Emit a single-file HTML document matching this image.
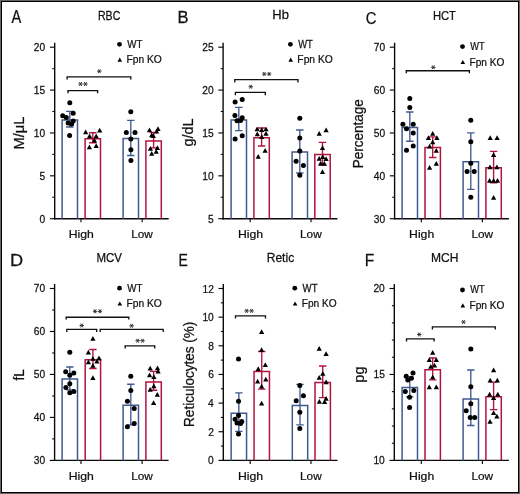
<!DOCTYPE html>
<html><head><meta charset="utf-8"><style>
html,body{margin:0;padding:0;background:#fff;}
body{width:520px;height:494px;overflow:hidden;}
svg{display:block;will-change:transform;font-family:"Liberation Sans",sans-serif;font-kerning:none;}
text{stroke:#111;stroke-width:0.25px;}
</style></head><body>
<svg width="520" height="494" viewBox="0 0 520 494">
<rect x="0" y="0" width="520" height="494" fill="#646464"/>
<rect x="1" y="1" width="518" height="492" fill="#000"/>
<rect x="2" y="2" width="516" height="490" fill="#fff"/>
<g stroke="#0a0a0a" fill="none">
<path d="M54.70 42.70L54.70 219.40" stroke-width="1.4"/>
<path d="M54.00 218.70L168.70 218.70" stroke-width="1.4"/>
<path d="M49.90 218.70L54.70 218.70" stroke-width="1.15"/>
<path d="M52.30 197.26L54.70 197.26" stroke-width="1.1"/>
<path d="M49.90 175.82L54.70 175.82" stroke-width="1.15"/>
<path d="M52.30 154.39L54.70 154.39" stroke-width="1.1"/>
<path d="M49.90 132.95L54.70 132.95" stroke-width="1.15"/>
<path d="M52.30 111.51L54.70 111.51" stroke-width="1.1"/>
<path d="M49.90 90.07L54.70 90.07" stroke-width="1.15"/>
<path d="M52.30 68.64L54.70 68.64" stroke-width="1.1"/>
<path d="M49.90 47.20L54.70 47.20" stroke-width="1.15"/>
<path d="M81.00 218.70L81.00 222.30" stroke-width="1.15"/>
<path d="M142.20 218.70L142.20 222.30" stroke-width="1.15"/>
</g>
<g stroke="#3f5a8f" fill="none" stroke-width="1.5">
<path d="M62.10 218.70L62.10 120.10L77.50 120.10L77.50 218.70"/>
<path d="M69.80 111.40L69.80 127.00M66.10 111.40L73.50 111.40M66.10 127.00L73.50 127.00" stroke-width="1.35"/>
</g>
<g fill="#000">
<circle cx="69.80" cy="102.80" r="2.50"/>
<circle cx="73.20" cy="113.30" r="2.50"/>
<circle cx="62.70" cy="115.80" r="2.50"/>
<circle cx="66.30" cy="117.60" r="2.50"/>
<circle cx="73.20" cy="120.90" r="2.50"/>
<circle cx="68.10" cy="122.90" r="2.50"/>
<circle cx="71.60" cy="123.90" r="2.50"/>
<circle cx="69.60" cy="135.60" r="2.50"/>
</g>
<g stroke="#b3123f" fill="none" stroke-width="1.5">
<path d="M85.10 218.70L85.10 138.70L100.50 138.70L100.50 218.70"/>
<path d="M92.80 132.70L92.80 142.70M89.10 132.70L96.50 132.70M89.10 142.70L96.50 142.70" stroke-width="1.35"/>
</g>
<g fill="#000">
<path d="M85.70 129.39L88.33 134.14L83.08 134.14Z"/>
<path d="M99.70 127.79L102.33 132.54L97.08 132.54Z"/>
<path d="M89.60 133.59L92.22 138.34L86.97 138.34Z"/>
<path d="M96.20 133.59L98.83 138.34L93.58 138.34Z"/>
<path d="M94.40 137.69L97.03 142.44L91.78 142.44Z"/>
<path d="M89.40 144.49L92.03 149.24L86.78 149.24Z"/>
<path d="M96.20 143.29L98.83 148.04L93.58 148.04Z"/>
</g>
<g stroke="#3f5a8f" fill="none" stroke-width="1.5">
<path d="M123.10 218.70L123.10 138.60L138.50 138.60L138.50 218.70"/>
<path d="M130.80 120.30L130.80 155.50M127.10 120.30L134.50 120.30M127.10 155.50L134.50 155.50" stroke-width="1.35"/>
</g>
<g fill="#000">
<circle cx="130.80" cy="111.80" r="2.50"/>
<circle cx="126.30" cy="132.50" r="2.50"/>
<circle cx="135.00" cy="132.50" r="2.50"/>
<circle cx="130.80" cy="138.90" r="2.50"/>
<circle cx="130.90" cy="149.70" r="2.50"/>
<circle cx="130.90" cy="160.40" r="2.50"/>
</g>
<g stroke="#b3123f" fill="none" stroke-width="1.5">
<path d="M145.90 218.70L145.90 140.90L161.30 140.90L161.30 218.70"/>
<path d="M153.60 132.50L153.60 147.90M149.90 132.50L157.30 132.50M149.90 147.90L157.30 147.90" stroke-width="1.35"/>
</g>
<g fill="#000">
<path d="M149.50 127.49L152.12 132.24L146.88 132.24Z"/>
<path d="M158.00 126.29L160.62 131.04L155.38 131.04Z"/>
<path d="M156.60 128.69L159.22 133.44L153.97 133.44Z"/>
<path d="M151.70 132.39L154.32 137.14L149.07 137.14Z"/>
<path d="M153.30 133.19L155.93 137.94L150.68 137.94Z"/>
<path d="M150.40 146.09L153.03 150.84L147.78 150.84Z"/>
<path d="M157.40 145.29L160.03 150.04L154.78 150.04Z"/>
<path d="M151.70 150.99L154.32 155.74L149.07 155.74Z"/>
<path d="M156.20 148.99L158.82 153.74L153.57 153.74Z"/>
</g>
<path d="M67.10 79.60L67.10 76.80L130.80 76.80L130.80 79.60" stroke="#111" stroke-width="1.35" fill="none"/>
<path d="M97.10 71.20L101.50 71.20M98.20 69.29L100.40 73.11M100.40 69.29L98.20 73.11" stroke="#333" stroke-width="1.0" fill="none"/>
<path d="M68.00 93.20L68.00 90.60L97.60 90.60L97.60 93.20" stroke="#111" stroke-width="1.35" fill="none"/>
<path d="M78.35 84.00L82.75 84.00M79.45 82.09L81.65 85.91M81.65 82.09L79.45 85.91" stroke="#333" stroke-width="1.0" fill="none"/><path d="M83.25 84.00L87.65 84.00M84.35 82.09L86.55 85.91M86.55 82.09L84.35 85.91" stroke="#333" stroke-width="1.0" fill="none"/>
<g stroke="#0a0a0a" fill="none">
<path d="M223.10 42.70L223.10 219.40" stroke-width="1.4"/>
<path d="M222.40 218.70L337.50 218.70" stroke-width="1.4"/>
<path d="M218.30 218.70L223.10 218.70" stroke-width="1.15"/>
<path d="M220.70 197.26L223.10 197.26" stroke-width="1.1"/>
<path d="M218.30 175.82L223.10 175.82" stroke-width="1.15"/>
<path d="M220.70 154.39L223.10 154.39" stroke-width="1.1"/>
<path d="M218.30 132.95L223.10 132.95" stroke-width="1.15"/>
<path d="M220.70 111.51L223.10 111.51" stroke-width="1.1"/>
<path d="M218.30 90.07L223.10 90.07" stroke-width="1.15"/>
<path d="M220.70 68.64L223.10 68.64" stroke-width="1.1"/>
<path d="M218.30 47.20L223.10 47.20" stroke-width="1.15"/>
<path d="M250.20 218.70L250.20 222.30" stroke-width="1.15"/>
<path d="M311.00 218.70L311.00 222.30" stroke-width="1.15"/>
</g>
<g stroke="#3f5a8f" fill="none" stroke-width="1.5">
<path d="M231.10 218.70L231.10 119.90L246.50 119.90L246.50 218.70"/>
<path d="M238.80 107.40L238.80 130.60M235.10 107.40L242.50 107.40M235.10 130.60L242.50 130.60" stroke-width="1.35"/>
</g>
<g fill="#000">
<circle cx="235.10" cy="102.00" r="2.50"/>
<circle cx="242.20" cy="99.60" r="2.50"/>
<circle cx="234.90" cy="115.60" r="2.50"/>
<circle cx="242.20" cy="117.80" r="2.50"/>
<circle cx="237.00" cy="120.80" r="2.50"/>
<circle cx="240.60" cy="120.50" r="2.50"/>
<circle cx="235.10" cy="139.00" r="2.50"/>
<circle cx="242.20" cy="135.70" r="2.50"/>
</g>
<g stroke="#b3123f" fill="none" stroke-width="1.5">
<path d="M253.90 218.70L253.90 137.80L269.30 137.80L269.30 218.70"/>
<path d="M261.60 128.00L261.60 146.00M257.90 128.00L265.30 128.00M257.90 146.00L265.30 146.00" stroke-width="1.35"/>
</g>
<g fill="#000">
<path d="M257.10 126.49L259.73 131.24L254.48 131.24Z"/>
<path d="M261.70 127.29L264.32 132.04L259.07 132.04Z"/>
<path d="M266.00 126.49L268.62 131.24L263.38 131.24Z"/>
<path d="M257.30 131.49L259.93 136.24L254.68 136.24Z"/>
<path d="M266.00 131.09L268.62 135.84L263.38 135.84Z"/>
<path d="M261.70 134.29L264.32 139.04L259.07 139.04Z"/>
<path d="M265.10 147.99L267.73 152.74L262.48 152.74Z"/>
<path d="M258.20 153.89L260.82 158.64L255.57 158.64Z"/>
</g>
<g stroke="#3f5a8f" fill="none" stroke-width="1.5">
<path d="M292.10 218.70L292.10 152.10L307.50 152.10L307.50 218.70"/>
<path d="M299.80 130.00L299.80 173.00M296.10 130.00L303.50 130.00M296.10 173.00L303.50 173.00" stroke-width="1.35"/>
</g>
<g fill="#000">
<circle cx="299.80" cy="118.30" r="2.50"/>
<circle cx="299.80" cy="138.10" r="2.50"/>
<circle cx="299.80" cy="150.90" r="2.50"/>
<circle cx="296.10" cy="161.30" r="2.50"/>
<circle cx="303.40" cy="165.50" r="2.50"/>
<circle cx="299.80" cy="175.20" r="2.50"/>
</g>
<g stroke="#b3123f" fill="none" stroke-width="1.5">
<path d="M314.80 218.70L314.80 154.60L330.20 154.60L330.20 218.70"/>
<path d="M322.50 142.40L322.50 165.00M318.80 142.40L326.20 142.40M318.80 165.00L326.20 165.00" stroke-width="1.35"/>
</g>
<g fill="#000">
<path d="M319.20 130.99L321.82 135.74L316.57 135.74Z"/>
<path d="M326.10 127.59L328.73 132.34L323.48 132.34Z"/>
<path d="M322.50 145.29L325.12 150.04L319.88 150.04Z"/>
<path d="M319.20 155.89L321.82 160.64L316.57 160.64Z"/>
<path d="M322.80 154.19L325.43 158.94L320.18 158.94Z"/>
<path d="M326.10 156.19L328.73 160.94L323.48 160.94Z"/>
<path d="M320.70 160.69L323.32 165.44L318.07 165.44Z"/>
<path d="M324.30 161.09L326.93 165.84L321.68 165.84Z"/>
<path d="M322.50 169.19L325.12 173.94L319.88 173.94Z"/>
</g>
<path d="M234.80 82.40L234.80 79.60L298.00 79.60L298.00 82.40" stroke="#111" stroke-width="1.35" fill="none"/>
<path d="M262.05 74.00L266.45 74.00M263.15 72.09L265.35 75.91M265.35 72.09L263.15 75.91" stroke="#333" stroke-width="1.0" fill="none"/><path d="M266.95 74.00L271.35 74.00M268.05 72.09L270.25 75.91M270.25 72.09L268.05 75.91" stroke="#333" stroke-width="1.0" fill="none"/>
<path d="M235.40 95.20L235.40 92.40L265.30 92.40L265.30 95.20" stroke="#111" stroke-width="1.35" fill="none"/>
<path d="M248.50 86.70L252.90 86.70M249.60 84.79L251.80 88.61M251.80 84.79L249.60 88.61" stroke="#333" stroke-width="1.0" fill="none"/>
<g stroke="#0a0a0a" fill="none">
<path d="M394.60 42.70L394.60 219.40" stroke-width="1.4"/>
<path d="M393.90 218.70L508.90 218.70" stroke-width="1.4"/>
<path d="M389.80 218.70L394.60 218.70" stroke-width="1.15"/>
<path d="M392.20 197.26L394.60 197.26" stroke-width="1.1"/>
<path d="M389.80 175.82L394.60 175.82" stroke-width="1.15"/>
<path d="M392.20 154.39L394.60 154.39" stroke-width="1.1"/>
<path d="M389.80 132.95L394.60 132.95" stroke-width="1.15"/>
<path d="M392.20 111.51L394.60 111.51" stroke-width="1.1"/>
<path d="M389.80 90.07L394.60 90.07" stroke-width="1.15"/>
<path d="M392.20 68.64L394.60 68.64" stroke-width="1.1"/>
<path d="M389.80 47.20L394.60 47.20" stroke-width="1.15"/>
<path d="M421.30 218.70L421.30 222.30" stroke-width="1.15"/>
<path d="M482.40 218.70L482.40 222.30" stroke-width="1.15"/>
</g>
<g stroke="#3f5a8f" fill="none" stroke-width="1.5">
<path d="M402.10 218.70L402.10 127.50L417.50 127.50L417.50 218.70"/>
<path d="M409.80 112.00L409.80 141.20M406.10 112.00L413.50 112.00M406.10 141.20L413.50 141.20" stroke-width="1.35"/>
</g>
<g fill="#000">
<circle cx="409.80" cy="98.60" r="2.50"/>
<circle cx="409.80" cy="107.40" r="2.50"/>
<circle cx="402.90" cy="124.20" r="2.50"/>
<circle cx="413.20" cy="124.20" r="2.50"/>
<circle cx="406.50" cy="128.70" r="2.50"/>
<circle cx="413.20" cy="132.90" r="2.50"/>
<circle cx="413.20" cy="145.90" r="2.50"/>
<circle cx="406.50" cy="150.20" r="2.50"/>
</g>
<g stroke="#b3123f" fill="none" stroke-width="1.5">
<path d="M425.00 218.70L425.00 147.50L440.40 147.50L440.40 218.70"/>
<path d="M432.70 136.80L432.70 157.50M429.00 136.80L436.40 136.80M429.00 157.50L436.40 157.50" stroke-width="1.35"/>
</g>
<g fill="#000">
<path d="M432.70 130.89L435.32 135.64L430.07 135.64Z"/>
<path d="M428.40 135.19L431.02 139.94L425.77 139.94Z"/>
<path d="M436.90 135.19L439.52 139.94L434.27 139.94Z"/>
<path d="M432.70 139.39L435.32 144.14L430.07 144.14Z"/>
<path d="M429.60 143.69L432.23 148.44L426.98 148.44Z"/>
<path d="M436.30 147.89L438.93 152.64L433.68 152.64Z"/>
<path d="M436.30 160.99L438.93 165.74L433.68 165.74Z"/>
<path d="M429.60 164.99L432.23 169.74L426.98 169.74Z"/>
</g>
<g stroke="#3f5a8f" fill="none" stroke-width="1.5">
<path d="M463.10 218.70L463.10 161.80L478.50 161.80L478.50 218.70"/>
<path d="M470.80 132.80L470.80 189.30M467.10 132.80L474.50 132.80M467.10 189.30L474.50 189.30" stroke-width="1.35"/>
</g>
<g fill="#000">
<circle cx="470.80" cy="120.30" r="2.50"/>
<circle cx="470.80" cy="141.80" r="2.50"/>
<circle cx="470.80" cy="163.30" r="2.50"/>
<circle cx="467.10" cy="171.40" r="2.50"/>
<circle cx="474.20" cy="171.40" r="2.50"/>
<circle cx="470.80" cy="197.30" r="2.50"/>
</g>
<g stroke="#b3123f" fill="none" stroke-width="1.5">
<path d="M485.90 218.70L485.90 167.70L501.30 167.70L501.30 218.70"/>
<path d="M493.60 151.30L493.60 182.70M489.90 151.30L497.30 151.30M489.90 182.70L497.30 182.70" stroke-width="1.35"/>
</g>
<g fill="#000">
<path d="M490.20 135.29L492.82 140.04L487.57 140.04Z"/>
<path d="M497.10 135.29L499.73 140.04L494.48 140.04Z"/>
<path d="M493.60 152.29L496.23 157.04L490.98 157.04Z"/>
<path d="M490.00 164.49L492.62 169.24L487.38 169.24Z"/>
<path d="M496.90 164.49L499.52 169.24L494.27 169.24Z"/>
<path d="M489.60 177.89L492.23 182.64L486.98 182.64Z"/>
<path d="M493.60 177.89L496.23 182.64L490.98 182.64Z"/>
<path d="M497.50 177.89L500.12 182.64L494.88 182.64Z"/>
<path d="M493.60 194.89L496.23 199.64L490.98 199.64Z"/>
</g>
<path d="M406.30 73.30L406.30 70.70L469.40 70.70L469.40 73.30" stroke="#111" stroke-width="1.35" fill="none"/>
<path d="M431.10 67.30L435.50 67.30M432.20 65.39L434.40 69.21M434.40 65.39L432.20 69.21" stroke="#333" stroke-width="1.0" fill="none"/>
<g stroke="#0a0a0a" fill="none">
<path d="M54.60 284.00L54.60 461.10" stroke-width="1.4"/>
<path d="M53.90 460.40L168.60 460.40" stroke-width="1.4"/>
<path d="M49.80 460.40L54.60 460.40" stroke-width="1.15"/>
<path d="M52.20 438.91L54.60 438.91" stroke-width="1.1"/>
<path d="M49.80 417.42L54.60 417.42" stroke-width="1.15"/>
<path d="M52.20 395.94L54.60 395.94" stroke-width="1.1"/>
<path d="M49.80 374.45L54.60 374.45" stroke-width="1.15"/>
<path d="M52.20 352.96L54.60 352.96" stroke-width="1.1"/>
<path d="M49.80 331.48L54.60 331.48" stroke-width="1.15"/>
<path d="M52.20 309.99L54.60 309.99" stroke-width="1.1"/>
<path d="M49.80 288.50L54.60 288.50" stroke-width="1.15"/>
<path d="M81.00 460.40L81.00 464.00" stroke-width="1.15"/>
<path d="M142.10 460.40L142.10 464.00" stroke-width="1.15"/>
</g>
<g stroke="#3f5a8f" fill="none" stroke-width="1.5">
<path d="M62.10 460.40L62.10 379.10L77.50 379.10L77.50 460.40"/>
<path d="M69.80 367.00L69.80 389.80M66.10 367.00L73.50 367.00M66.10 389.80L73.50 389.80" stroke-width="1.35"/>
</g>
<g fill="#000">
<circle cx="69.80" cy="352.20" r="2.50"/>
<circle cx="65.70" cy="371.80" r="2.50"/>
<circle cx="73.80" cy="373.00" r="2.50"/>
<circle cx="69.80" cy="375.20" r="2.50"/>
<circle cx="69.80" cy="383.70" r="2.50"/>
<circle cx="65.90" cy="387.60" r="2.50"/>
<circle cx="73.80" cy="391.60" r="2.50"/>
<circle cx="69.80" cy="392.80" r="2.50"/>
</g>
<g stroke="#b3123f" fill="none" stroke-width="1.5">
<path d="M85.20 460.40L85.20 359.70L100.60 359.70L100.60 460.40"/>
<path d="M92.90 349.50L92.90 368.50M89.20 349.50L96.60 349.50M89.20 368.50L96.60 368.50" stroke-width="1.35"/>
</g>
<g fill="#000">
<path d="M92.90 335.99L95.53 340.74L90.28 340.74Z"/>
<path d="M88.40 349.79L91.03 354.54L85.78 354.54Z"/>
<path d="M99.00 355.39L101.62 360.14L96.38 360.14Z"/>
<path d="M92.90 355.89L95.53 360.64L90.28 360.64Z"/>
<path d="M88.40 359.49L91.03 364.24L85.78 364.24Z"/>
<path d="M96.90 358.69L99.53 363.44L94.28 363.44Z"/>
<path d="M92.90 363.09L95.53 367.84L90.28 367.84Z"/>
<path d="M92.90 375.29L95.53 380.04L90.28 380.04Z"/>
</g>
<g stroke="#3f5a8f" fill="none" stroke-width="1.5">
<path d="M123.10 460.40L123.10 405.20L138.50 405.20L138.50 460.40"/>
<path d="M130.80 384.20L130.80 424.80M127.10 384.20L134.50 384.20M127.10 424.80L134.50 424.80" stroke-width="1.35"/>
</g>
<g fill="#000">
<circle cx="130.80" cy="376.30" r="2.50"/>
<circle cx="130.80" cy="390.50" r="2.50"/>
<circle cx="127.40" cy="401.30" r="2.50"/>
<circle cx="134.20" cy="408.40" r="2.50"/>
<circle cx="134.20" cy="423.50" r="2.50"/>
<circle cx="127.40" cy="426.80" r="2.50"/>
</g>
<g stroke="#b3123f" fill="none" stroke-width="1.5">
<path d="M145.90 460.40L145.90 382.00L161.30 382.00L161.30 460.40"/>
<path d="M153.60 371.40L153.60 390.20M149.90 371.40L157.30 371.40M149.90 390.20L157.30 390.20" stroke-width="1.35"/>
</g>
<g fill="#000">
<path d="M150.20 365.79L152.82 370.54L147.57 370.54Z"/>
<path d="M157.50 365.49L160.12 370.24L154.88 370.24Z"/>
<path d="M158.10 368.79L160.72 373.54L155.47 373.54Z"/>
<path d="M149.60 372.39L152.22 377.14L146.97 377.14Z"/>
<path d="M153.90 374.29L156.53 379.04L151.28 379.04Z"/>
<path d="M153.90 383.39L156.53 388.14L151.28 388.14Z"/>
<path d="M150.20 386.99L152.82 391.74L147.57 391.74Z"/>
<path d="M157.30 391.89L159.93 396.64L154.68 396.64Z"/>
<path d="M153.60 400.19L156.22 404.94L150.97 404.94Z"/>
</g>
<path d="M66.20 319.60L66.20 317.20L128.80 317.20L128.80 319.60" stroke="#111" stroke-width="1.35" fill="none"/>
<path d="M92.85 311.30L97.25 311.30M93.95 309.39L96.15 313.21M96.15 309.39L93.95 313.21" stroke="#333" stroke-width="1.0" fill="none"/><path d="M97.75 311.30L102.15 311.30M98.85 309.39L101.05 313.21M101.05 309.39L98.85 313.21" stroke="#333" stroke-width="1.0" fill="none"/>
<path d="M66.80 331.90L66.80 329.40L96.70 329.40L96.70 331.90" stroke="#111" stroke-width="1.35" fill="none"/>
<path d="M79.50 325.50L83.90 325.50M80.60 323.59L82.80 327.41M82.80 323.59L80.60 327.41" stroke="#333" stroke-width="1.0" fill="none"/>
<path d="M100.20 332.10L100.20 329.40L163.20 329.40L163.20 332.10" stroke="#111" stroke-width="1.35" fill="none"/>
<path d="M129.40 325.80L133.80 325.80M130.50 323.89L132.70 327.71M132.70 323.89L130.50 327.71" stroke="#333" stroke-width="1.0" fill="none"/>
<path d="M125.20 348.40L125.20 345.90L154.70 345.90L154.70 348.40" stroke="#111" stroke-width="1.35" fill="none"/>
<path d="M135.45 340.70L139.85 340.70M136.55 338.79L138.75 342.61M138.75 338.79L136.55 342.61" stroke="#333" stroke-width="1.0" fill="none"/><path d="M140.35 340.70L144.75 340.70M141.45 338.79L143.65 342.61M143.65 338.79L141.45 342.61" stroke="#333" stroke-width="1.0" fill="none"/>
<g stroke="#0a0a0a" fill="none">
<path d="M223.30 284.00L223.30 461.10" stroke-width="1.4"/>
<path d="M222.60 460.40L337.50 460.40" stroke-width="1.4"/>
<path d="M218.50 460.40L223.30 460.40" stroke-width="1.15"/>
<path d="M220.90 446.07L223.30 446.07" stroke-width="1.1"/>
<path d="M218.50 431.75L223.30 431.75" stroke-width="1.15"/>
<path d="M220.90 417.43L223.30 417.43" stroke-width="1.1"/>
<path d="M218.50 403.10L223.30 403.10" stroke-width="1.15"/>
<path d="M220.90 388.77L223.30 388.77" stroke-width="1.1"/>
<path d="M218.50 374.45L223.30 374.45" stroke-width="1.15"/>
<path d="M220.90 360.12L223.30 360.12" stroke-width="1.1"/>
<path d="M218.50 345.80L223.30 345.80" stroke-width="1.15"/>
<path d="M220.90 331.48L223.30 331.48" stroke-width="1.1"/>
<path d="M218.50 317.15L223.30 317.15" stroke-width="1.15"/>
<path d="M220.90 302.82L223.30 302.82" stroke-width="1.1"/>
<path d="M218.50 288.50L223.30 288.50" stroke-width="1.15"/>
<path d="M250.20 460.40L250.20 464.00" stroke-width="1.15"/>
<path d="M311.00 460.40L311.00 464.00" stroke-width="1.15"/>
</g>
<g stroke="#3f5a8f" fill="none" stroke-width="1.5">
<path d="M231.15 460.40L231.15 413.20L246.55 413.20L246.55 460.40"/>
<path d="M238.85 392.80L238.85 431.40M235.15 392.80L242.55 392.80M235.15 431.40L242.55 431.40" stroke-width="1.35"/>
</g>
<g fill="#000">
<circle cx="238.50" cy="359.10" r="2.50"/>
<circle cx="238.50" cy="401.30" r="2.50"/>
<circle cx="238.50" cy="415.40" r="2.50"/>
<circle cx="235.10" cy="419.30" r="2.50"/>
<circle cx="241.80" cy="421.50" r="2.50"/>
<circle cx="237.00" cy="422.90" r="2.50"/>
<circle cx="240.60" cy="423.50" r="2.50"/>
<circle cx="238.50" cy="433.90" r="2.50"/>
</g>
<g stroke="#b3123f" fill="none" stroke-width="1.5">
<path d="M254.05 460.40L254.05 371.60L269.45 371.60L269.45 460.40"/>
<path d="M261.75 351.50L261.75 389.10M258.05 351.50L265.45 351.50M258.05 389.10L265.45 389.10" stroke-width="1.35"/>
</g>
<g fill="#000">
<path d="M261.60 329.19L264.23 333.94L258.98 333.94Z"/>
<path d="M261.60 347.19L264.23 351.94L258.98 351.94Z"/>
<path d="M265.30 362.19L267.93 366.94L262.68 366.94Z"/>
<path d="M258.20 366.19L260.82 370.94L255.57 370.94Z"/>
<path d="M257.60 378.69L260.23 383.44L254.98 383.44Z"/>
<path d="M265.80 376.79L268.43 381.54L263.18 381.54Z"/>
<path d="M261.60 383.79L264.23 388.54L258.98 388.54Z"/>
<path d="M261.60 400.79L264.23 405.54L258.98 405.54Z"/>
</g>
<g stroke="#3f5a8f" fill="none" stroke-width="1.5">
<path d="M292.30 460.40L292.30 405.40L307.70 405.40L307.70 460.40"/>
<path d="M300.00 384.30L300.00 424.80M296.30 384.30L303.70 384.30M296.30 424.80L303.70 424.80" stroke-width="1.35"/>
</g>
<g fill="#000">
<circle cx="299.80" cy="385.50" r="2.50"/>
<circle cx="303.40" cy="395.80" r="2.50"/>
<circle cx="296.20" cy="400.80" r="2.50"/>
<circle cx="299.80" cy="412.20" r="2.50"/>
<circle cx="299.80" cy="428.40" r="2.50"/>
</g>
<g stroke="#b3123f" fill="none" stroke-width="1.5">
<path d="M315.00 460.40L315.00 382.60L330.40 382.60L330.40 460.40"/>
<path d="M322.70 366.00L322.70 397.60M319.00 366.00L326.40 366.00M319.00 397.60L326.40 397.60" stroke-width="1.35"/>
</g>
<g fill="#000">
<path d="M319.20 345.89L321.82 350.64L316.57 350.64Z"/>
<path d="M326.10 351.19L328.73 355.94L323.48 355.94Z"/>
<path d="M322.80 371.09L325.43 375.84L320.18 375.84Z"/>
<path d="M319.20 374.89L321.82 379.64L316.57 379.64Z"/>
<path d="M326.10 379.59L328.73 384.34L323.48 384.34Z"/>
<path d="M326.10 395.99L328.73 400.74L323.48 400.74Z"/>
<path d="M319.40 399.09L322.02 403.84L316.77 403.84Z"/>
<path d="M324.60 399.29L327.23 404.04L321.98 404.04Z"/>
</g>
<path d="M235.50 318.50L235.50 315.80L265.50 315.80L265.50 318.50" stroke="#111" stroke-width="1.35" fill="none"/>
<path d="M244.45 310.90L248.85 310.90M245.55 308.99L247.75 312.81M247.75 308.99L245.55 312.81" stroke="#333" stroke-width="1.0" fill="none"/><path d="M249.35 310.90L253.75 310.90M250.45 308.99L252.65 312.81M252.65 308.99L250.45 312.81" stroke="#333" stroke-width="1.0" fill="none"/>
<g stroke="#0a0a0a" fill="none">
<path d="M394.30 284.00L394.30 461.10" stroke-width="1.4"/>
<path d="M393.60 460.40L508.90 460.40" stroke-width="1.4"/>
<path d="M389.50 460.40L394.30 460.40" stroke-width="1.15"/>
<path d="M391.90 443.21L394.30 443.21" stroke-width="1.1"/>
<path d="M391.90 426.02L394.30 426.02" stroke-width="1.1"/>
<path d="M391.90 408.83L394.30 408.83" stroke-width="1.1"/>
<path d="M391.90 391.64L394.30 391.64" stroke-width="1.1"/>
<path d="M389.50 374.45L394.30 374.45" stroke-width="1.15"/>
<path d="M391.90 357.26L394.30 357.26" stroke-width="1.1"/>
<path d="M391.90 340.07L394.30 340.07" stroke-width="1.1"/>
<path d="M391.90 322.88L394.30 322.88" stroke-width="1.1"/>
<path d="M391.90 305.69L394.30 305.69" stroke-width="1.1"/>
<path d="M389.50 288.50L394.30 288.50" stroke-width="1.15"/>
<path d="M421.30 460.40L421.30 464.00" stroke-width="1.15"/>
<path d="M482.40 460.40L482.40 464.00" stroke-width="1.15"/>
</g>
<g stroke="#3f5a8f" fill="none" stroke-width="1.5">
<path d="M402.10 460.40L402.10 387.60L417.50 387.60L417.50 460.40"/>
<path d="M409.80 376.90L409.80 396.90M406.10 376.90L413.50 376.90M406.10 396.90L413.50 396.90" stroke-width="1.35"/>
</g>
<g fill="#000">
<circle cx="413.00" cy="373.00" r="2.50"/>
<circle cx="406.20" cy="376.30" r="2.50"/>
<circle cx="411.40" cy="378.30" r="2.50"/>
<circle cx="407.80" cy="379.90" r="2.50"/>
<circle cx="405.30" cy="391.40" r="2.50"/>
<circle cx="413.80" cy="390.50" r="2.50"/>
<circle cx="409.60" cy="397.30" r="2.50"/>
<circle cx="409.60" cy="407.50" r="2.50"/>
</g>
<g stroke="#b3123f" fill="none" stroke-width="1.5">
<path d="M425.00 460.40L425.00 369.80L440.40 369.80L440.40 460.40"/>
<path d="M432.70 358.00L432.70 379.90M429.00 358.00L436.40 358.00M429.00 379.90L436.40 379.90" stroke-width="1.35"/>
</g>
<g fill="#000">
<path d="M432.70 349.89L435.32 354.64L430.07 354.64Z"/>
<path d="M429.30 357.29L431.93 362.04L426.68 362.04Z"/>
<path d="M436.30 357.29L438.93 362.04L433.68 362.04Z"/>
<path d="M430.80 363.89L433.43 368.64L428.18 368.64Z"/>
<path d="M434.50 362.69L437.12 367.44L431.88 367.44Z"/>
<path d="M432.70 374.49L435.32 379.24L430.07 379.24Z"/>
<path d="M429.30 384.59L431.93 389.34L426.68 389.34Z"/>
<path d="M436.30 384.59L438.93 389.34L433.68 389.34Z"/>
</g>
<g stroke="#3f5a8f" fill="none" stroke-width="1.5">
<path d="M463.10 460.40L463.10 398.90L478.50 398.90L478.50 460.40"/>
<path d="M470.80 370.00L470.80 425.50M467.10 370.00L474.50 370.00M467.10 425.50L474.50 425.50" stroke-width="1.35"/>
</g>
<g fill="#000">
<circle cx="470.80" cy="349.10" r="2.50"/>
<circle cx="470.80" cy="386.70" r="2.50"/>
<circle cx="470.80" cy="403.80" r="2.50"/>
<circle cx="466.20" cy="410.70" r="2.50"/>
<circle cx="470.20" cy="417.40" r="2.50"/>
<circle cx="474.70" cy="417.40" r="2.50"/>
</g>
<g stroke="#b3123f" fill="none" stroke-width="1.5">
<path d="M485.90 460.40L485.90 396.70L501.30 396.70L501.30 460.40"/>
<path d="M493.60 382.10L493.60 409.60M489.90 382.10L497.30 382.10M489.90 409.60L497.30 409.60" stroke-width="1.35"/>
</g>
<g fill="#000">
<path d="M493.60 367.39L496.23 372.14L490.98 372.14Z"/>
<path d="M490.20 377.79L492.82 382.54L487.57 382.54Z"/>
<path d="M497.30 377.79L499.93 382.54L494.68 382.54Z"/>
<path d="M489.60 391.69L492.23 396.44L486.98 396.44Z"/>
<path d="M497.80 391.69L500.43 396.44L495.18 396.44Z"/>
<path d="M493.60 395.29L496.23 400.04L490.98 400.04Z"/>
<path d="M493.60 410.19L496.23 414.94L490.98 414.94Z"/>
<path d="M496.90 413.79L499.52 418.54L494.27 418.54Z"/>
<path d="M490.00 418.99L492.62 423.74L487.38 423.74Z"/>
</g>
<path d="M406.50 341.60L406.50 338.90L434.10 338.90L434.10 341.60" stroke="#111" stroke-width="1.35" fill="none"/>
<path d="M417.10 334.50L421.50 334.50M418.20 332.59L420.40 336.41M420.40 332.59L418.20 336.41" stroke="#333" stroke-width="1.0" fill="none"/>
<path d="M432.40 329.40L432.40 326.90L495.30 326.90L495.30 329.40" stroke="#111" stroke-width="1.35" fill="none"/>
<path d="M461.30 322.00L465.70 322.00M462.40 320.09L464.60 323.91M464.60 320.09L462.40 323.91" stroke="#333" stroke-width="1.0" fill="none"/>
<text transform="translate(11.47 23.40) scale(0.8249 1)" font-size="17.73" fill="#111">A</text>
<text transform="translate(177.44 23.30) scale(1.0157 1)" font-size="16.28" fill="#111">B</text>
<text transform="translate(365.75 24.00) scale(0.8581 1)" font-size="17.30" fill="#111">C</text>
<text transform="translate(9.90 265.70) scale(1.0542 1)" font-size="17.30" fill="#111">D</text>
<text transform="translate(178.45 265.70) scale(0.8107 1)" font-size="17.30" fill="#111">E</text>
<text transform="translate(364.72 265.70) scale(0.8990 1)" font-size="17.30" fill="#111">F</text>
<text transform="translate(97.93 19.60) scale(0.8477 1)" font-size="12.50" fill="#111">RBC</text>
<text transform="translate(272.33 19.20) scale(1.0396 1)" font-size="12.50" fill="#111">Hb</text>
<text transform="translate(432.88 19.60) scale(0.8984 1)" font-size="12.50" fill="#111">HCT</text>
<text transform="translate(96.46 261.80) scale(0.9214 1)" font-size="12.50" fill="#111">MCV</text>
<text transform="translate(266.71 261.80) scale(0.9659 1)" font-size="12.50" fill="#111">Retic</text>
<text transform="translate(431.01 261.80) scale(0.9651 1)" font-size="12.50" fill="#111">MCH</text>
<circle cx="119.50" cy="44.30" r="2.4" fill="#000"/>
<g fill="#000"><path d="M119.80 57.50L122.11 61.68L117.49 61.68Z"/></g>
<text transform="translate(127.26 47.70) scale(0.8949 1)" font-size="10.90" fill="#111">WT</text>
<text transform="translate(126.46 63.10) scale(0.9188 1)" font-size="11.19" fill="#111">Fpn KO</text>
<circle cx="290.40" cy="44.30" r="2.4" fill="#000"/>
<g fill="#000"><path d="M290.70 57.50L293.01 61.68L288.39 61.68Z"/></g>
<text transform="translate(298.16 47.70) scale(0.8589 1)" font-size="10.90" fill="#111">WT</text>
<text transform="translate(297.36 63.10) scale(0.9188 1)" font-size="11.19" fill="#111">Fpn KO</text>
<circle cx="462.50" cy="46.60" r="2.4" fill="#000"/>
<g fill="#000"><path d="M462.80 59.90L465.11 64.08L460.49 64.08Z"/></g>
<text transform="translate(470.26 50.00) scale(0.8468 1)" font-size="10.90" fill="#111">WT</text>
<text transform="translate(469.47 65.50) scale(0.9081 1)" font-size="11.19" fill="#111">Fpn KO</text>
<circle cx="119.50" cy="288.20" r="2.4" fill="#000"/>
<g fill="#000"><path d="M119.80 301.40L122.11 305.58L117.49 305.58Z"/></g>
<text transform="translate(127.26 291.60) scale(0.8949 1)" font-size="10.90" fill="#111">WT</text>
<text transform="translate(126.46 307.00) scale(0.9188 1)" font-size="11.19" fill="#111">Fpn KO</text>
<circle cx="294.80" cy="288.20" r="2.4" fill="#000"/>
<g fill="#000"><path d="M295.10 301.40L297.41 305.58L292.79 305.58Z"/></g>
<text transform="translate(302.56 291.60) scale(0.8829 1)" font-size="10.90" fill="#111">WT</text>
<text transform="translate(301.77 307.00) scale(0.9081 1)" font-size="11.19" fill="#111">Fpn KO</text>
<circle cx="462.50" cy="290.00" r="2.4" fill="#000"/>
<g fill="#000"><path d="M462.80 303.20L465.11 307.38L460.49 307.38Z"/></g>
<text transform="translate(470.26 293.40) scale(0.8468 1)" font-size="10.90" fill="#111">WT</text>
<text transform="translate(469.47 308.80) scale(0.9081 1)" font-size="11.19" fill="#111">Fpn KO</text>
<text transform="translate(39.51 222.59) scale(0.9054 1)" font-size="11.30" fill="#111">0</text>
<text transform="translate(39.54 179.71) scale(0.8923 1)" font-size="11.47" fill="#111">5</text>
<text transform="translate(33.82 136.84) scale(0.9054 1)" font-size="11.30" fill="#111">10</text>
<text transform="translate(33.85 93.96) scale(0.8923 1)" font-size="11.47" fill="#111">15</text>
<text transform="translate(33.82 51.09) scale(0.9054 1)" font-size="11.30" fill="#111">20</text>
<text transform="translate(207.94 222.59) scale(0.8923 1)" font-size="11.47" fill="#111">5</text>
<text transform="translate(202.22 179.71) scale(0.9054 1)" font-size="11.30" fill="#111">10</text>
<text transform="translate(202.25 136.84) scale(0.8923 1)" font-size="11.47" fill="#111">15</text>
<text transform="translate(202.22 93.96) scale(0.9054 1)" font-size="11.30" fill="#111">20</text>
<text transform="translate(202.25 51.09) scale(0.9054 1)" font-size="11.30" fill="#111">25</text>
<text transform="translate(373.72 222.59) scale(0.9054 1)" font-size="11.30" fill="#111">30</text>
<text transform="translate(373.72 179.71) scale(0.9054 1)" font-size="11.30" fill="#111">40</text>
<text transform="translate(373.72 136.84) scale(0.9054 1)" font-size="11.30" fill="#111">50</text>
<text transform="translate(373.72 93.96) scale(0.9054 1)" font-size="11.30" fill="#111">60</text>
<text transform="translate(373.72 51.09) scale(0.9054 1)" font-size="11.30" fill="#111">70</text>
<text transform="translate(33.72 464.29) scale(0.9054 1)" font-size="11.30" fill="#111">30</text>
<text transform="translate(33.72 421.31) scale(0.9054 1)" font-size="11.30" fill="#111">40</text>
<text transform="translate(33.72 378.34) scale(0.9054 1)" font-size="11.30" fill="#111">50</text>
<text transform="translate(33.72 335.36) scale(0.9054 1)" font-size="11.30" fill="#111">60</text>
<text transform="translate(33.72 292.39) scale(0.9054 1)" font-size="11.30" fill="#111">70</text>
<text transform="translate(208.11 464.29) scale(0.9054 1)" font-size="11.30" fill="#111">0</text>
<text transform="translate(208.23 435.75) scale(0.8929 1)" font-size="11.46" fill="#111">2</text>
<text transform="translate(208.01 407.10) scale(0.8798 1)" font-size="11.63" fill="#111">4</text>
<text transform="translate(208.16 378.34) scale(0.9054 1)" font-size="11.30" fill="#111">6</text>
<text transform="translate(208.16 349.69) scale(0.9054 1)" font-size="11.30" fill="#111">8</text>
<text transform="translate(202.42 321.04) scale(0.9054 1)" font-size="11.30" fill="#111">10</text>
<text transform="translate(202.54 292.50) scale(0.8929 1)" font-size="11.46" fill="#111">12</text>
<text transform="translate(373.42 464.29) scale(0.9054 1)" font-size="11.30" fill="#111">10</text>
<text transform="translate(373.45 378.34) scale(0.8923 1)" font-size="11.47" fill="#111">15</text>
<text transform="translate(373.42 292.39) scale(0.9054 1)" font-size="11.30" fill="#111">20</text>
<text transform="translate(68.80 238.10) scale(1.0693 1)" font-size="11.41" fill="#111">High</text>
<text transform="translate(131.23 238.10) scale(1.0208 1)" font-size="11.56" fill="#111">Low</text>
<text transform="translate(238.00 238.10) scale(1.0693 1)" font-size="11.41" fill="#111">High</text>
<text transform="translate(300.03 238.10) scale(1.0208 1)" font-size="11.56" fill="#111">Low</text>
<text transform="translate(409.10 238.10) scale(1.0693 1)" font-size="11.41" fill="#111">High</text>
<text transform="translate(471.43 238.10) scale(1.0208 1)" font-size="11.56" fill="#111">Low</text>
<text transform="translate(68.80 479.90) scale(1.0693 1)" font-size="11.41" fill="#111">High</text>
<text transform="translate(131.13 479.90) scale(1.0208 1)" font-size="11.56" fill="#111">Low</text>
<text transform="translate(238.00 479.90) scale(1.0693 1)" font-size="11.41" fill="#111">High</text>
<text transform="translate(300.03 479.90) scale(1.0208 1)" font-size="11.56" fill="#111">Low</text>
<text transform="translate(409.10 479.90) scale(1.0693 1)" font-size="11.41" fill="#111">High</text>
<text transform="translate(471.43 479.90) scale(1.0208 1)" font-size="11.56" fill="#111">Low</text>
<text transform="translate(23.84 149.51) rotate(-90) scale(1.0615 1)" font-size="13.86" fill="#111">M/μL</text>
<text transform="translate(193.22 146.60) rotate(-90) scale(1.0001 1)" font-size="14.38" fill="#111">g/dL</text>
<text transform="translate(363.49 168.31) rotate(-90) scale(0.9321 1)" font-size="14.52" fill="#111">Percentage</text>
<text transform="translate(23.80 380.59) rotate(-90) scale(0.9286 1)" font-size="14.65" fill="#111">fL</text>
<text transform="translate(194.15 426.91) rotate(-90) scale(0.9861 1)" font-size="13.73" fill="#111">Reticulocytes (%)</text>
<text transform="translate(363.80 382.63) rotate(-90) scale(1.0345 1)" font-size="13.96" fill="#111">pg</text>
</svg>
</body></html>
